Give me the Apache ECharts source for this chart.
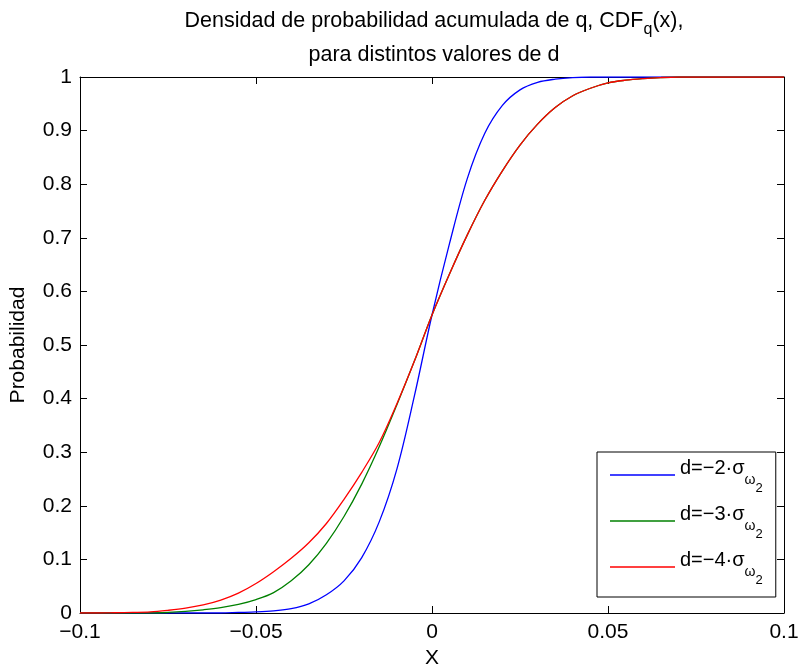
<!DOCTYPE html>
<html><head><meta charset="utf-8">
<script src="https://cdn.jsdelivr.net/npm/echarts@6/dist/echarts.min.js"></script>
<style>html,body{margin:0;padding:0;background:#fff}#c{width:798px;height:667px}</style>
</head><body><div id="c"></div>
<script>
const xValues = [-0.1,-0.095,-0.09,-0.085,-0.08,-0.075,-0.07,-0.065,-0.06,-0.055,-0.05,-0.045,-0.04,-0.035,-0.03,-0.025,-0.02,-0.015,-0.01,-0.005,0,0.005,0.01,0.015,0.02,0.025,0.03,0.035,0.04,0.045,0.05,0.055,0.06,0.065,0.07,0.075,0.08,0.085,0.09,0.095,0.1];
const cdfD2 = [0,0,0,0,0,0,0,0,0,0.001,0.002,0.004,0.008,0.017,0.034,0.060,0.103,0.170,0.268,0.405,0.556,0.69,0.81,0.895,0.947,0.976,0.99,0.996,0.999,1,1,1,1,1,1,1,1,1,1,1,1];
const cdfD3 = [0,0,0,0,0,0.001,0.003,0.006,0.010,0.016,0.025,0.038,0.060,0.090,0.130,0.180,0.240,0.310,0.388,0.470,0.556,0.633,0.705,0.77,0.825,0.873,0.912,0.943,0.965,0.979,0.989,0.994,0.997,0.999,1,1,1,1,1,1,1];
const cdfD4 = [0,0,0.0005,0.001,0.002,0.005,0.009,0.015,0.024,0.037,0.055,0.077,0.102,0.131,0.167,0.212,0.262,0.318,0.39,0.47,0.556,0.633,0.705,0.77,0.825,0.873,0.912,0.943,0.965,0.979,0.989,0.994,0.997,0.999,1,1,1,1,1,1,1];
const seriesNames = ['d=−2·σω2','d=−3·σω2','d=−4·σω2'];
const legendMain = ['d=−2·σ','d=−3·σ','d=−4·σ'];
const seriesColors = ['#0000ff','#008000','#ff0000'];
const titleLine1 = 'Densidad de probabilidad acumulada de q, CDF';
const titleSub = 'q';
const titleLine1End = '(x),';
const titleLine2 = 'para distintos valores de d';
const xName = 'X';
const yName = 'Probabilidad';

const FONT = "'Liberation Sans', Arial, Helvetica, sans-serif";
const chart = echarts.init(document.getElementById('c'), null, {renderer:'canvas'});
const allData = [cdfD2, cdfD3, cdfD4];
const fmtX = v => { if (Math.abs(v) < 1e-9) return '0'; return String(+v.toFixed(3)).replace('-', '−'); };
const fmtY = v => String(+v.toFixed(1));
const axisCommon = {
  axisLine:{show:true, onZero:false, lineStyle:{color:'#000', width:1}},
  axisTick:{show:true, inside:true, length:7, lineStyle:{color:'#000', width:1}},
  splitLine:{show:false}
};
chart.setOption({
  animation:false,
  backgroundColor:'#fff',
  title:{
    left:434, top:0, padding:[4,0,0,0], textAlign:'center',
    text:'{a|'+titleLine1+'}{s|'+titleSub+'}{a|'+titleLine1End+'}\n{a|'+titleLine2+'}',
    textStyle:{
      fontFamily:FONT, fontWeight:'normal', color:'#000', fontSize:21.5,
      rich:{
        a:{fontFamily:FONT, fontSize:21.5, lineHeight:34, color:'#000'},
        s:{fontFamily:FONT, fontSize:16, color:'#000', verticalAlign:'bottom'}
      }
    }
  },
  grid:{left:80, right:14, top:77, bottom:54, containLabel:false, outerBoundsMode:'none'},
  xAxis:[
    Object.assign({type:'value', min:-0.1, max:0.1, interval:0.05, position:'bottom',
      name:xName, nameLocation:'middle', nameGap:35,
      nameTextStyle:{fontFamily:FONT, fontSize:21, color:'#000'},
      axisLabel:{show:true, margin:9, fontFamily:FONT, fontSize:21, color:'#000', formatter:fmtX, showMinLabel:true, showMaxLabel:true}
    }, axisCommon),
    Object.assign({type:'value', min:-0.1, max:0.1, interval:0.05, position:'top',
      axisLabel:{show:false}}, axisCommon)
  ],
  yAxis:[
    Object.assign({type:'value', min:0, max:1, interval:0.1, position:'left',
      name:yName, nameLocation:'middle', nameGap:51, nameRotate:90,
      nameTextStyle:{fontFamily:FONT, fontSize:21, color:'#000'},
      axisLabel:{show:true, margin:8, fontFamily:FONT, fontSize:21, color:'#000', formatter:fmtY, showMinLabel:true, showMaxLabel:true}
    }, axisCommon),
    Object.assign({type:'value', min:0, max:1, interval:0.1, position:'right',
      axisLabel:{show:false}}, axisCommon)
  ],
  legend:{
    orient:'vertical', left:597, top:452,
    padding:[6,13,10,13], itemGap:9, itemWidth:65, itemHeight:1.3,
    icon:'rect',
    backgroundColor:'#fff', borderColor:'#000', borderWidth:1, borderRadius:0,
    data:seriesNames,
    formatter: name => '{a|'+legendMain[seriesNames.indexOf(name)]+'}{w|ω}{n|2}',
    textStyle:{
      fontFamily:FONT, fontSize:20, color:'#000',
      rich:{
        a:{fontFamily:FONT, fontSize:20, color:'#000', verticalAlign:'top'},
        w:{fontFamily:FONT, fontSize:14, color:'#000', verticalAlign:'top', padding:[15,0,0,0], lineHeight:34},
        n:{fontFamily:FONT, fontSize:13, color:'#000', verticalAlign:'top', padding:[24,0,0,0], lineHeight:34}
      }
    }
  },
  series: seriesNames.map((nm, k) => ({
    name:nm, type:'line', xAxisIndex:0, yAxisIndex:0,
    symbol:'none', showSymbol:false, smooth:0.35,
    lineStyle:{color:seriesColors[k], width:1.3},
    itemStyle:{color:seriesColors[k]},
    data: xValues.map((x, i) => [x, allData[k][i]])
  }))
});
</script></body></html>
